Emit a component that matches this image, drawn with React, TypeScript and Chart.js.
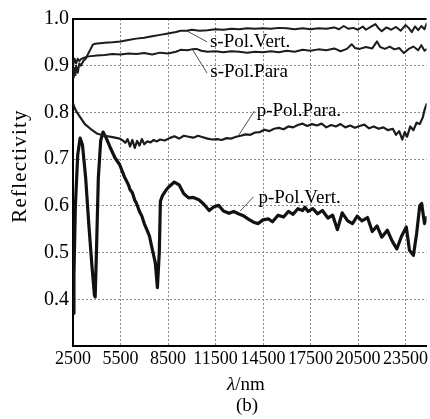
import React, { useEffect, useRef } from 'react';
import { Chart, registerables } from 'chart.js';

Chart.register(...registerables);

const FONT = "'Liberation Serif', 'Times New Roman', serif";

const xTicks = [2500, 5500, 8500, 11500, 14500, 17500, 20500, 23500];
const yTicks = [0.4, 0.5, 0.6, 0.7, 0.8, 0.9, 1.0];
const xMin = 2500;
const xMax = 24830;
const yMin = 0.3;
const yMax = 1.0;

const yTitle = 'Reflectivity';
const xTitleSymbol = 'λ';
const xTitleUnit = '/nm';
const panelLabel = '(b)';

const sVertX = [2500, 2550, 2600, 2650, 2700, 2800, 2900, 3000, 3150, 3300, 3450, 3600, 3750, 3900, 4200, 4500, 5000, 5500, 6000, 6500, 7000, 7500, 8000, 8500, 9000, 9300, 9700, 10000, 10500, 11000, 11500, 12000, 12500, 13000, 13500, 14000, 14500, 15000, 15500, 16000, 16500, 17000, 17500, 18000, 18500, 19000, 19300, 19600, 19900, 20200, 20500, 20800, 21000, 21300, 21600, 21800, 22000, 22300, 22600, 22900, 23200, 23500, 23700, 23900, 24100, 24300, 24500, 24700, 24830];
const sVertY = [0.89, 0.875, 0.895, 0.88, 0.9, 0.885, 0.905, 0.9, 0.91, 0.915, 0.925, 0.935, 0.945, 0.947, 0.948, 0.949, 0.95, 0.952, 0.955, 0.958, 0.96, 0.963, 0.966, 0.969, 0.972, 0.975, 0.975, 0.977, 0.975, 0.976, 0.978, 0.977, 0.979, 0.978, 0.98, 0.979, 0.98, 0.979, 0.981, 0.98, 0.978, 0.98, 0.978, 0.98, 0.979, 0.982, 0.978, 0.985, 0.979, 0.981, 0.977, 0.984, 0.977, 0.983, 0.989, 0.98, 0.974, 0.982, 0.977, 0.983, 0.975, 0.987, 0.981, 0.972, 0.984, 0.976, 0.985, 0.978, 0.99];

const sParaX = [2500, 2600, 2700, 2800, 2900, 3000, 3200, 3500, 4000, 4500, 5000, 5500, 6000, 6500, 7000, 7500, 8000, 8500, 9000, 9300, 9700, 10000, 10300, 10600, 11000, 11500, 12000, 12500, 13000, 13500, 14000, 14500, 15000, 15500, 16000, 16500, 17000, 17500, 18000, 18500, 19000, 19400, 19800, 20100, 20300, 20600, 21000, 21400, 21700, 21900, 22200, 22500, 22800, 23100, 23400, 23700, 24000, 24300, 24500, 24700, 24830];
const sParaY = [0.9, 0.915, 0.905, 0.915, 0.91, 0.914, 0.917, 0.92, 0.922, 0.923, 0.925, 0.924, 0.926, 0.925, 0.927, 0.924, 0.928, 0.926, 0.93, 0.934, 0.933, 0.935, 0.936, 0.932, 0.93, 0.931, 0.929, 0.931, 0.93, 0.928, 0.93, 0.929, 0.931, 0.929, 0.932, 0.93, 0.934, 0.932, 0.935, 0.933, 0.937, 0.931, 0.936, 0.946, 0.938, 0.936, 0.94, 0.937, 0.952, 0.94, 0.936, 0.941, 0.935, 0.938, 0.927, 0.936, 0.941, 0.933, 0.944, 0.932, 0.935];

const pParaX = [2500, 2600, 2750, 2950, 3250, 3600, 4000, 4500, 5000, 5450, 5650, 5800, 5950, 6100, 6250, 6400, 6550, 6700, 6850, 7000, 7200, 7400, 7600, 7800, 8000, 8300, 8600, 8900, 9200, 9500, 9800, 10100, 10400, 10700, 11000, 11300, 11600, 11900, 12200, 12500, 12800, 13100, 13400, 13700, 14000, 14300, 14600, 14900, 15200, 15500, 15800, 16100, 16400, 16700, 17000, 17300, 17600, 17900, 18200, 18500, 18800, 19100, 19400, 19700, 20000, 20300, 20600, 20900, 21200, 21500, 21800, 22100, 22400, 22700, 22900, 23100, 23300, 23450, 23600, 23800, 24000, 24200, 24400, 24600, 24700, 24830];
const pParaY = [0.82, 0.81, 0.8, 0.79, 0.775, 0.765, 0.755, 0.75, 0.747, 0.744, 0.74, 0.735, 0.743, 0.727, 0.741, 0.724, 0.739, 0.729, 0.743, 0.732, 0.738, 0.736, 0.741, 0.738, 0.742, 0.74, 0.745, 0.749, 0.744, 0.75, 0.748, 0.746, 0.75, 0.747, 0.744, 0.742, 0.743, 0.741, 0.745, 0.744, 0.748, 0.75, 0.753, 0.752, 0.757, 0.758, 0.763, 0.76, 0.765, 0.767, 0.764, 0.77, 0.768, 0.773, 0.776, 0.771, 0.775, 0.772, 0.776, 0.768, 0.773, 0.77, 0.775, 0.768, 0.772, 0.767, 0.771, 0.774, 0.766, 0.77, 0.765, 0.768, 0.762, 0.765, 0.752, 0.76, 0.742, 0.758, 0.748, 0.77, 0.762, 0.778, 0.775, 0.79, 0.805, 0.818];

const pVertX = [2500, 2560, 2650, 2800, 2950, 3100, 3300, 3500, 3700, 3850, 3900, 3980, 4100, 4250, 4400, 4600, 4850, 5150, 5450, 5750, 6000, 6100, 6250, 6400, 6500, 6700, 6850, 7000, 7150, 7330, 7520, 7700, 7830, 7950, 8020, 8150, 8400, 8600, 8900, 9200, 9500, 9800, 10100, 10450, 10750, 11100, 11400, 11700, 12000, 12350, 12650, 12950, 13250, 13600, 13900, 14200, 14500, 14850, 15100, 15450, 15800, 16100, 16400, 16700, 17000, 17150, 17350, 17650, 17950, 18250, 18600, 18900, 19200, 19500, 19850, 20150, 20450, 20750, 21100, 21400, 21700, 22000, 22350, 22650, 22950, 23250, 23550, 23750, 24000, 24200, 24400, 24520, 24700, 24830];
const pVertY = [0.37, 0.45, 0.6, 0.71, 0.745, 0.73, 0.66, 0.56, 0.47, 0.41, 0.405, 0.5, 0.66, 0.74, 0.758, 0.745, 0.725, 0.703, 0.688, 0.662, 0.645, 0.635, 0.628, 0.612, 0.606, 0.588, 0.578, 0.562, 0.55, 0.535, 0.505, 0.478, 0.425, 0.5, 0.61, 0.622, 0.635, 0.642, 0.651, 0.645, 0.626, 0.617, 0.618, 0.613, 0.604, 0.59, 0.598, 0.601, 0.589, 0.584, 0.588, 0.583, 0.579, 0.571, 0.565, 0.562, 0.57, 0.572, 0.566, 0.58, 0.576, 0.588, 0.582, 0.594, 0.59, 0.597, 0.588, 0.594, 0.583, 0.59, 0.574, 0.58, 0.549, 0.585, 0.568, 0.562, 0.578, 0.568, 0.575, 0.545, 0.557, 0.533, 0.548, 0.525, 0.508, 0.535, 0.555, 0.505, 0.494, 0.54, 0.6, 0.605, 0.562, 0.575];

const seriesNames = ['s-Pol.Vert.', 's-Pol.Para', 'p-Pol.Para.', 'p-Pol.Vert.'];

// label text anchor (data coords) and leader line endpoints (data coords)
const labelX = [11150, 11170, 14100, 14210];
const labelY = [0.94, 0.876, 0.792, 0.607];
const leaderFromX = [9720, 10020, 12960, 13060];
const leaderFromY = [0.974, 0.936, 0.751, 0.589];
const leaderToX = [10970, 10970, 13960, 13890];
const leaderToY = [0.951, 0.884, 0.803, 0.619];

const toPoints = (xs: number[], ys: number[]) => xs.map((x, i) => ({ x, y: ys[i] }));

const annotationPlugin = {
  id: 'annotationsAndTitles',
  afterDraw(chart: any) {
    const { ctx, scales } = chart;
    const xs = scales.x;
    const ys = scales.y;
    ctx.save();
    ctx.strokeStyle = '#222';
    ctx.lineWidth = 0.8;
    ctx.fillStyle = '#000';
    ctx.font = `19px ${FONT}`;
    ctx.textAlign = 'left';
    ctx.textBaseline = 'alphabetic';
    seriesNames.forEach((name, i) => {
      ctx.beginPath();
      ctx.moveTo(xs.getPixelForValue(leaderFromX[i]), ys.getPixelForValue(leaderFromY[i]));
      ctx.lineTo(xs.getPixelForValue(leaderToX[i]), ys.getPixelForValue(leaderToY[i]));
      ctx.stroke();
      ctx.fillText(name, xs.getPixelForValue(labelX[i]), ys.getPixelForValue(labelY[i]));
    });

    ctx.save();
    ctx.translate(20.5, 166);
    ctx.rotate(-Math.PI / 2);
    ctx.font = `21px ${FONT}`;
    try { (ctx as any).letterSpacing = '1.2px'; } catch (e) { /* ignore */ }
    ctx.textAlign = 'center';
    ctx.textBaseline = 'middle';
    ctx.fillText(yTitle, 0, 0);
    ctx.restore();

    ctx.font = `italic 19px ${FONT}`;
    const w1 = ctx.measureText(xTitleSymbol).width;
    ctx.font = `19px ${FONT}`;
    const w2 = ctx.measureText(xTitleUnit).width;
    const cx = 246;
    const startX = cx - (w1 + w2) / 2;
    ctx.textAlign = 'left';
    ctx.textBaseline = 'alphabetic';
    ctx.font = `italic 19px ${FONT}`;
    ctx.fillText(xTitleSymbol, startX, 390);
    ctx.font = `19px ${FONT}`;
    ctx.fillText(xTitleUnit, startX + w1, 390);

    ctx.textAlign = 'center';
    ctx.fillText(panelLabel, 247, 411);
    ctx.restore();
  },
};

export default function App() {
  const canvasRef = useRef<HTMLCanvasElement | null>(null);

  useEffect(() => {
    if (!canvasRef.current) return;
    const isTop = (c: any) => c.tick && Math.abs(c.tick.value - yMax) < 1e-6;
    const chart = new Chart(canvasRef.current, {
      type: 'line',
      data: {
        datasets: [
          { label: seriesNames[0], data: toPoints(sVertX, sVertY), borderColor: '#1c1c1c', borderWidth: 2 },
          { label: seriesNames[1], data: toPoints(sParaX, sParaY), borderColor: '#1c1c1c', borderWidth: 2 },
          { label: seriesNames[2], data: toPoints(pParaX, pParaY), borderColor: '#1c1c1c', borderWidth: 2.2 },
          { label: seriesNames[3], data: toPoints(pVertX, pVertY), borderColor: '#111', borderWidth: 3.2 },
        ],
      },
      options: {
        responsive: false,
        animation: false,
        parsing: false as any,
        layout: { padding: { top: 19, left: 0, right: 0, bottom: 0 } },
        elements: { point: { radius: 0 }, line: { tension: 0, borderJoinStyle: 'round', borderCapStyle: 'round' } },
        plugins: { legend: { display: false }, tooltip: { enabled: false } },
        scales: {
          x: {
            type: 'linear',
            min: xMin,
            max: xMax,
            afterBuildTicks: (s: any) => { s.ticks = xTicks.map((v) => ({ value: v })); },
            afterFit: (s: any) => { s.height = 73; },
            ticks: {
              autoSkip: false,
              maxRotation: 0,
              minRotation: 0,
              color: '#000',
              padding: 2,
              font: { family: FONT, size: 18 },
              callback: (v: any) => String(v),
            },
            grid: { color: '#8a8a8a', lineWidth: 1, drawTicks: false },
            border: { display: true, color: '#000', width: 2, dash: [2, 2] },
          },
          y: {
            type: 'linear',
            min: yMin,
            max: yMax,
            afterBuildTicks: (s: any) => { s.ticks = yTicks.map((v) => ({ value: v })); },
            afterFit: (s: any) => { s.width = 73; },
            ticks: {
              color: '#000',
              padding: 4,
              font: { family: FONT, size: 20 },
              callback: (v: any) => Number(v).toFixed(1),
            },
            grid: {
              color: (c: any) => (isTop(c) ? '#000' : '#8a8a8a'),
              lineWidth: (c: any) => (isTop(c) ? 2 : 1),
              drawTicks: false,
            },
            border: { display: true, color: '#000', width: 2, dash: (c: any) => (isTop(c) ? [] : [2, 2]) },
          },
        },
      },
      plugins: [annotationPlugin],
    } as any);
    return () => chart.destroy();
  }, []);

  return (
    <div style={{ position: 'fixed', left: 0, top: 0, width: 430, height: 419, background: '#fff' }}>
      <canvas ref={canvasRef} width={430} height={419} style={{ display: 'block' }} />
    </div>
  );
}
